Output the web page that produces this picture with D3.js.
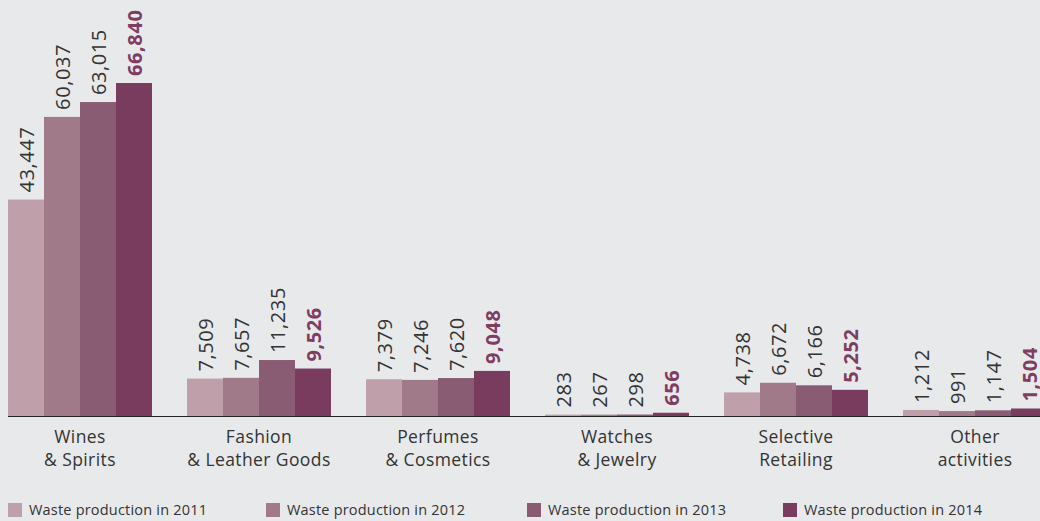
<!DOCTYPE html>
<html><head><meta charset="utf-8">
<script src="https://cdn.jsdelivr.net/npm/d3@7"></script>
<style>
html,body{margin:0;padding:0;background:#e8e9eb;}
svg{display:block;font-family:"Open Sans",sans-serif;}
</style></head>
<body>
<svg id="chart" width="1040" height="521"></svg>
<script>
const categories = [["Wines","& Spirits"],["Fashion","& Leather Goods"],["Perfumes","& Cosmetics"],["Watches","& Jewelry"],["Selective","Retailing"],["Other","activities"]];
const years = ["2011","2012","2013","2014"];
const waste2011 = [43447, 7509, 7379, 283, 4738, 1212];
const waste2012 = [60037, 7657, 7246, 267, 6672, 991];
const waste2013 = [63015, 11235, 7620, 298, 6166, 1147];
const waste2014 = [66840, 9526, 9048, 656, 5252, 1504];
const series = [waste2011, waste2012, waste2013, waste2014];
const legendLabels = ["Waste production in 2011","Waste production in 2012","Waste production in 2013","Waste production in 2014"];
const colors = ["#bf9fa9","#a07a89","#8a5c73","#7a3c5e"];

const svg = d3.select("#chart");
const x0 = d3.scaleBand().domain(d3.range(categories.length)).range([8,1047]).paddingInner(35/179).paddingOuter(0);
const x1 = d3.scaleBand().domain(years).range([0, x0.bandwidth()]);
const y = d3.scaleLinear().domain([0, 66840]).range([416, 83]);
const fmt = d3.format(",");

const g = svg.append("g");
categories.forEach((c, i) => {
  const grp = g.append("g").attr("transform", `translate(${x0(i)},0)`);
  years.forEach((yr, j) => {
    const v = series[j][i];
    grp.append("rect").attr("x", x1(yr)).attr("y", y(v)).attr("width", x1.bandwidth()).attr("height", y(0) - y(v)).attr("fill", colors[j]);
    const cx = x1(yr) + x1.bandwidth()/2;
    const ty = y(v) - 7;
    grp.append("text").attr("transform", `translate(${cx},${ty}) rotate(-90)`)
      .attr("dominant-baseline","central").attr("text-anchor","start")
      .attr("font-size", 20).attr("letter-spacing", 0.6)
      .attr("font-weight", j === 3 ? 700 : 400)
      .attr("fill", j === 3 ? "#7f3d62" : "#333")
      .text(fmt(v));
  });
});

// baseline
svg.append("line").attr("x1", 8).attr("x2", 1040).attr("y1", y(0)+0.5).attr("y2", y(0)+0.5).attr("stroke", "#222").attr("stroke-width", 1);

// category labels
categories.forEach((c, i) => {
  const cx = x0(i) + x0.bandwidth()/2;
  c.forEach((line, k) => {
    svg.append("text").attr("x", cx).attr("y", 443 + k*23).attr("text-anchor","middle")
      .attr("font-size", 17.5).attr("letter-spacing", 0.4).attr("fill", "#333").text(line);
  });
});

// legend
const legendX = [8, 266, 527, 783];
legendLabels.forEach((l, j) => {
  svg.append("rect").attr("x", legendX[j]).attr("y", 503).attr("width", 14).attr("height", 14).attr("fill", colors[j]);
  svg.append("text").attr("x", legendX[j] + 21).attr("y", 515).attr("font-size", 14.5).attr("letter-spacing", 0.2).attr("fill", "#333").text(l);
});
</script>
</body></html>
